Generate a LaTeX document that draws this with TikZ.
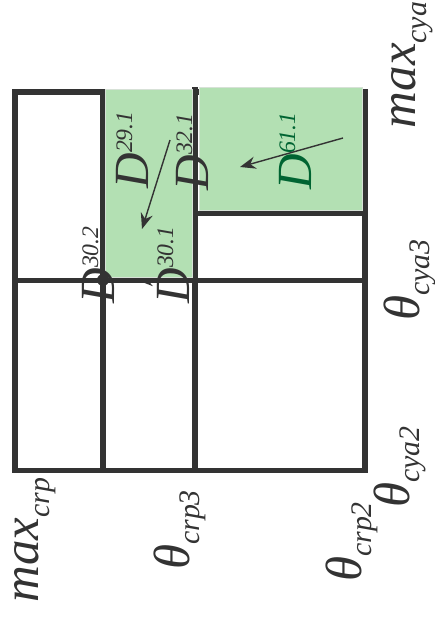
\documentclass[tikz,border=0pt]{standalone}
\usepackage{fontspec}
\setmainfont{Liberation Serif}
\usepackage{tikz}
\usetikzlibrary{arrows.meta, positioning}
\definecolor{mygrid}{RGB}{51,51,51}
\definecolor{mygreen}{RGB}{179,224,179}
\definecolor{mydkgreen}{RGB}{0,100,50}
\definecolor{myedge}{RGB}{215,225,215}
\newcommand{\Dlab}[1]{\fontsize{28}{28}\selectfont\textit{D}\raisebox{9pt}{\fontsize{13.5}{13.5}\selectfont\textit{#1}}}
\newcommand{\axlab}[2]{\fontsize{29}{29}\selectfont\textit{#1}\raisebox{-6pt}{\fontsize{17}{17}\selectfont\textit{#2}}}
\tikzset{
  gridline/.style={line width=2.85pt, color=mygrid},
  cell/.style={fill=mygreen, draw=myedge, line width=0.4pt},
  lbl/.style={rotate=90, inner sep=0pt, text=mygrid},
  arrow/.style={-{Stealth[length=9pt, width=7pt, inset=3pt]}, line width=0.8pt, color=mygrid}
}

\begin{document}
\begin{tikzpicture}[x=0.02cm, y=-0.02cm]
  \useasboundingbox (0,0) rectangle (434,619);

  % Arrow hidden under the grid line
  \coordinate (c30s) at (178,280);
  \coordinate (c30e) at (137,280);
  \draw[arrow] (c30s) -- (c30e);

  % Grid
  \draw[gridline] (15,92) rectangle (365,470);
  \draw[gridline] (103,92) -- (103,470);
  \draw[gridline] (195,87) -- (195,470);
  \draw[gridline] (15,280) -- (365,280);
  \draw[gridline] (195,213) -- (365,213);

  % Green cells (over the top edge)
  \draw[cell] (105,89) rectangle (192.5,277.5);
  \draw[cell] (199,87) rectangle (362,210.5);

  \fill[mygrid] (103,280) circle (3.4pt);

  % Cell labels
  \node[lbl] (d291) at (132,150) {\Dlab{29.1}};
  \node[lbl] (d321) at (192,152) {\Dlab{32.1}};
  \node[lbl, text=mydkgreen] (d611) at (295,151) {\Dlab{61.1}};
  \node[lbl] (d301) at (173,265) {\Dlab{30.1}};
  \node[lbl] (d302) at (98,265) {\Dlab{30.2}};

  % Arrows
  \coordinate (c29s) at (170,140);
  \coordinate (c29e) at (142,229);
  \draw[arrow] (c29s) -- (c29e);
  \coordinate (c61s) at (343,138);
  \coordinate (c61e) at (240,167);
  \draw[arrow] (c61s) -- (c61e);

  % Axis labels
  \node[lbl] (mcrp) at (35,540) {\axlab{max}{crp}};
  \node[lbl] (tcrp3) at (180,530) {\axlab{θ}{crp3}};
  \node[lbl] (tcrp2) at (352,542) {\axlab{θ}{crp2}};
  \node[lbl] (tcya2) at (400,467) {\axlab{θ}{cya2}};
  \node[lbl] (tcya3) at (410,280) {\axlab{θ}{cya3}};
  \node[lbl] (mcya) at (412,65) {\axlab{max}{cya}};
\end{tikzpicture}
\end{document}
